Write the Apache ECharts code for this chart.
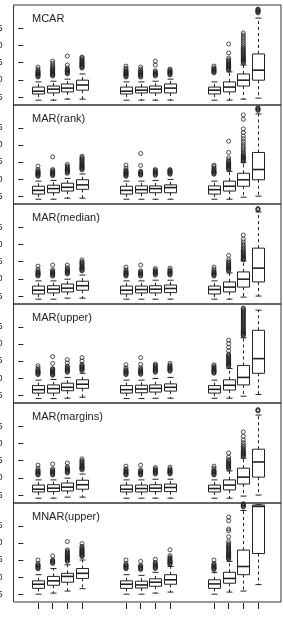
<!DOCTYPE html>
<html>
<head>
<meta charset="utf-8">
<script src="https://cdn.jsdelivr.net/npm/echarts@6/dist/echarts.min.js"></script>
<style>
  html, body { margin: 0; padding: 0; background: #fff; }
  #chart { width: 283px; height: 618px; }
</style>
</head>
<body>
<div id="chart"></div>
<script>
// box positions on the x scale (3 groups of 4)
const positions = [1, 2, 3, 4, 7, 8, 9, 10, 13, 14, 15, 16]
const panelNames = ['MCAR', 'MAR(rank)', 'MAR(median)', 'MAR(upper)', 'MAR(margins)', 'MNAR(upper)']
const yTicks = [0.05, 0.10, 0.15, 0.20, 0.25]

// [lower whisker, Q1, median, Q3, upper whisker]
const mcarBoxes = [
  [0.041, 0.059, 0.067, 0.079, 0.094], [0.041, 0.062, 0.073, 0.082, 0.096],
  [0.044, 0.065, 0.076, 0.088, 0.102], [0.044, 0.070, 0.085, 0.099, 0.117],
  [0.041, 0.059, 0.067, 0.079, 0.094], [0.041, 0.062, 0.070, 0.079, 0.094],
  [0.041, 0.062, 0.073, 0.082, 0.096], [0.041, 0.062, 0.076, 0.088, 0.102],
  [0.041, 0.059, 0.070, 0.079, 0.094], [0.041, 0.065, 0.079, 0.094, 0.123],
  [0.044, 0.082, 0.099, 0.117, 0.143], [0.047, 0.099, 0.128, 0.175, 0.279]
]
const mcarOutliers = [
  [0.108, 0.110, 0.112, 0.114, 0.116, 0.118, 0.120, 0.122, 0.124, 0.126, 0.131, 0.137],
  [0.111, 0.113, 0.115, 0.117, 0.119, 0.121, 0.123, 0.125, 0.127, 0.129, 0.132, 0.135, 0.138, 0.142, 0.148, 0.154],
  [0.117, 0.119, 0.121, 0.123, 0.125, 0.127, 0.129, 0.131, 0.134, 0.143, 0.169],
  [0.134, 0.136, 0.138, 0.140, 0.142, 0.144, 0.146, 0.148, 0.150, 0.152, 0.155, 0.158, 0.161, 0.164, 0.166],
  [0.108, 0.110, 0.112, 0.114, 0.116, 0.118, 0.120, 0.122, 0.124, 0.126, 0.130, 0.134, 0.140],
  [0.108, 0.110, 0.112, 0.114, 0.116, 0.118, 0.120, 0.122, 0.124, 0.126, 0.131, 0.137],
  [0.111, 0.113, 0.115, 0.117, 0.119, 0.121, 0.123, 0.126, 0.143, 0.154],
  [0.114, 0.116, 0.118, 0.120, 0.122, 0.124, 0.126, 0.129, 0.131],
  [0.120, 0.122, 0.124, 0.126, 0.128, 0.130, 0.132, 0.135, 0.140],
  [0.128, 0.130, 0.132, 0.134, 0.136, 0.138, 0.140, 0.142, 0.144, 0.146, 0.149, 0.152, 0.155, 0.158, 0.163, 0.178, 0.204],
  [0.149, 0.151, 0.153, 0.155, 0.157, 0.159, 0.161, 0.163, 0.165, 0.167, 0.170, 0.173, 0.176, 0.179, 0.182, 0.185, 0.188, 0.191, 0.195, 0.200, 0.206, 0.212, 0.218, 0.224, 0.230, 0.236],
  [0.294, 0.296, 0.298, 0.300, 0.302, 0.304, 0.305]
]

const rankBoxes = [
  [0.041, 0.056, 0.067, 0.079, 0.094], [0.041, 0.060, 0.072, 0.082, 0.096],
  [0.044, 0.065, 0.076, 0.088, 0.102], [0.044, 0.070, 0.083, 0.098, 0.115],
  [0.041, 0.056, 0.067, 0.079, 0.094], [0.041, 0.059, 0.069, 0.080, 0.094],
  [0.041, 0.060, 0.072, 0.080, 0.096], [0.041, 0.060, 0.075, 0.083, 0.099],
  [0.041, 0.056, 0.069, 0.080, 0.094], [0.041, 0.065, 0.079, 0.094, 0.123],
  [0.047, 0.079, 0.098, 0.117, 0.149], [0.050, 0.098, 0.128, 0.178, 0.291]
]
const rankOutliers = [
  [0.108, 0.110, 0.112, 0.114, 0.116, 0.118, 0.120, 0.122, 0.124, 0.128, 0.138],
  [0.110, 0.112, 0.114, 0.116, 0.118, 0.120, 0.122, 0.125, 0.128, 0.165],
  [0.117, 0.119, 0.121, 0.123, 0.125, 0.127, 0.129, 0.132, 0.135, 0.138, 0.143],
  [0.127, 0.129, 0.131, 0.133, 0.135, 0.137, 0.139, 0.141, 0.143, 0.145, 0.148, 0.151, 0.154, 0.157, 0.160, 0.163, 0.167],
  [0.108, 0.110, 0.112, 0.114, 0.116, 0.118, 0.120, 0.122, 0.124, 0.126, 0.132, 0.141],
  [0.111, 0.113, 0.115, 0.117, 0.119, 0.121, 0.123, 0.140, 0.175],
  [0.111, 0.113, 0.115, 0.117, 0.119, 0.121, 0.123, 0.126, 0.128],
  [0.114, 0.116, 0.118, 0.120, 0.122, 0.124, 0.126, 0.128],
  [0.114, 0.116, 0.118, 0.120, 0.122, 0.124, 0.126, 0.129, 0.132, 0.137, 0.141],
  [0.128, 0.130, 0.132, 0.134, 0.136, 0.138, 0.140, 0.142, 0.144, 0.146, 0.149, 0.152, 0.156, 0.162, 0.178, 0.211],
  [0.152, 0.154, 0.156, 0.158, 0.160, 0.162, 0.164, 0.166, 0.168, 0.172, 0.176, 0.180, 0.185, 0.190, 0.196, 0.203, 0.210, 0.218, 0.226, 0.236, 0.247, 0.275, 0.288],
  [0.301, 0.303, 0.305, 0.307, 0.309]
]

const medianBoxes = [
  [0.041, 0.056, 0.067, 0.079, 0.094], [0.041, 0.059, 0.070, 0.080, 0.094],
  [0.044, 0.062, 0.073, 0.085, 0.099], [0.044, 0.067, 0.080, 0.093, 0.111],
  [0.041, 0.056, 0.067, 0.079, 0.094], [0.041, 0.059, 0.069, 0.079, 0.094],
  [0.041, 0.059, 0.070, 0.080, 0.096], [0.041, 0.060, 0.072, 0.082, 0.096],
  [0.041, 0.056, 0.069, 0.079, 0.094], [0.041, 0.062, 0.076, 0.091, 0.117],
  [0.047, 0.076, 0.099, 0.120, 0.152], [0.050, 0.091, 0.131, 0.189, 0.294]
]
const medianOutliers = [
  [0.108, 0.110, 0.112, 0.114, 0.116, 0.118, 0.120, 0.123, 0.128, 0.137],
  [0.108, 0.110, 0.112, 0.114, 0.116, 0.118, 0.120, 0.123, 0.126, 0.140],
  [0.114, 0.116, 0.118, 0.120, 0.122, 0.124, 0.126, 0.129, 0.132, 0.140],
  [0.123, 0.125, 0.127, 0.129, 0.131, 0.133, 0.135, 0.138, 0.141, 0.144, 0.147, 0.150, 0.155],
  [0.108, 0.110, 0.112, 0.114, 0.116, 0.118, 0.120, 0.123, 0.126, 0.134],
  [0.108, 0.110, 0.112, 0.114, 0.116, 0.118, 0.120, 0.123, 0.140],
  [0.111, 0.113, 0.115, 0.117, 0.119, 0.121, 0.123, 0.126, 0.130],
  [0.111, 0.113, 0.115, 0.117, 0.119, 0.121, 0.123, 0.126, 0.131],
  [0.108, 0.110, 0.112, 0.114, 0.116, 0.118, 0.120, 0.123, 0.128, 0.134],
  [0.123, 0.125, 0.127, 0.129, 0.131, 0.133, 0.135, 0.138, 0.141, 0.144, 0.147, 0.150, 0.156, 0.168],
  [0.155, 0.157, 0.159, 0.161, 0.163, 0.165, 0.167, 0.170, 0.173, 0.176, 0.179, 0.182, 0.186, 0.190, 0.195, 0.200, 0.207, 0.215, 0.227],
  [0.300, 0.302, 0.304]
]

const upperBoxes = [
  [0.040, 0.056, 0.066, 0.078, 0.094], [0.040, 0.056, 0.069, 0.080, 0.096],
  [0.041, 0.063, 0.073, 0.085, 0.102], [0.044, 0.070, 0.082, 0.095, 0.114],
  [0.040, 0.056, 0.066, 0.078, 0.094], [0.040, 0.057, 0.068, 0.079, 0.094],
  [0.041, 0.059, 0.070, 0.080, 0.099], [0.041, 0.062, 0.073, 0.083, 0.102],
  [0.041, 0.056, 0.067, 0.078, 0.094], [0.041, 0.065, 0.079, 0.095, 0.128],
  [0.047, 0.080, 0.102, 0.137, 0.218], [0.052, 0.114, 0.157, 0.240, 0.299]
]
const upperOutliers = [
  [0.110, 0.112, 0.114, 0.116, 0.118, 0.120, 0.122, 0.125, 0.130, 0.136],
  [0.108, 0.110, 0.112, 0.114, 0.116, 0.118, 0.120, 0.122, 0.124, 0.126, 0.128, 0.143, 0.163],
  [0.117, 0.119, 0.121, 0.123, 0.125, 0.127, 0.129, 0.132, 0.135, 0.144, 0.154],
  [0.122, 0.124, 0.126, 0.128, 0.130, 0.132, 0.134, 0.137, 0.140, 0.150, 0.160],
  [0.110, 0.112, 0.114, 0.116, 0.118, 0.120, 0.122, 0.125, 0.130, 0.139],
  [0.111, 0.113, 0.115, 0.117, 0.119, 0.121, 0.123, 0.126, 0.130, 0.140, 0.160],
  [0.117, 0.119, 0.121, 0.123, 0.125, 0.127, 0.129, 0.132, 0.135, 0.138, 0.141],
  [0.120, 0.122, 0.124, 0.126, 0.128, 0.130, 0.132, 0.135, 0.138, 0.143],
  [0.114, 0.116, 0.118, 0.120, 0.122, 0.124, 0.126, 0.129, 0.132, 0.135, 0.139],
  [0.134, 0.136, 0.138, 0.140, 0.142, 0.144, 0.146, 0.148, 0.150, 0.152, 0.155, 0.158, 0.161, 0.164, 0.167, 0.170, 0.180, 0.190, 0.201, 0.211],
  [0.224, 0.226, 0.228, 0.230, 0.232, 0.234, 0.236, 0.238, 0.240, 0.243, 0.246, 0.249, 0.252, 0.255, 0.258, 0.261, 0.264, 0.267, 0.270, 0.273, 0.276, 0.279, 0.282, 0.285, 0.288, 0.291, 0.294, 0.297, 0.300, 0.303, 0.305],
  []
]

const marginsBoxes = [
  [0.041, 0.059, 0.067, 0.079, 0.094], [0.041, 0.060, 0.070, 0.080, 0.094],
  [0.044, 0.062, 0.073, 0.085, 0.099], [0.044, 0.067, 0.080, 0.093, 0.111],
  [0.041, 0.059, 0.067, 0.079, 0.094], [0.041, 0.059, 0.069, 0.079, 0.094],
  [0.041, 0.060, 0.070, 0.080, 0.096], [0.041, 0.060, 0.072, 0.082, 0.096],
  [0.041, 0.059, 0.069, 0.079, 0.094], [0.041, 0.065, 0.079, 0.094, 0.120],
  [0.047, 0.082, 0.102, 0.128, 0.157], [0.050, 0.102, 0.146, 0.183, 0.282]
]
const marginsOutliers = [
  [0.108, 0.110, 0.112, 0.114, 0.116, 0.118, 0.120, 0.123, 0.128, 0.137],
  [0.108, 0.110, 0.112, 0.114, 0.116, 0.118, 0.120, 0.123, 0.126, 0.140],
  [0.114, 0.116, 0.118, 0.120, 0.122, 0.124, 0.126, 0.129, 0.132, 0.143],
  [0.123, 0.125, 0.127, 0.129, 0.131, 0.133, 0.135, 0.138, 0.141, 0.144, 0.147, 0.150, 0.155],
  [0.108, 0.110, 0.112, 0.114, 0.116, 0.118, 0.120, 0.123, 0.126, 0.134],
  [0.108, 0.110, 0.112, 0.114, 0.116, 0.118, 0.120, 0.123, 0.137],
  [0.111, 0.113, 0.115, 0.117, 0.119, 0.121, 0.123, 0.126, 0.130],
  [0.111, 0.113, 0.115, 0.117, 0.119, 0.121, 0.123, 0.126, 0.131],
  [0.108, 0.110, 0.112, 0.114, 0.116, 0.118, 0.120, 0.123, 0.128, 0.134],
  [0.126, 0.128, 0.130, 0.132, 0.134, 0.136, 0.138, 0.141, 0.144, 0.147, 0.150, 0.153, 0.160, 0.172],
  [0.162, 0.164, 0.166, 0.168, 0.170, 0.172, 0.174, 0.177, 0.180, 0.183, 0.187, 0.191, 0.196, 0.202, 0.210, 0.220, 0.233],
  [0.294, 0.296, 0.298]
]

const mnarBoxes = [
  [0.050, 0.067, 0.079, 0.089, 0.107], [0.053, 0.076, 0.089, 0.102, 0.125],
  [0.059, 0.085, 0.102, 0.111, 0.136], [0.066, 0.096, 0.111, 0.125, 0.150],
  [0.050, 0.067, 0.079, 0.089, 0.107], [0.050, 0.068, 0.077, 0.088, 0.105],
  [0.053, 0.073, 0.085, 0.095, 0.114], [0.056, 0.079, 0.092, 0.107, 0.131],
  [0.050, 0.067, 0.080, 0.092, 0.114], [0.056, 0.082, 0.096, 0.114, 0.146],
  [0.059, 0.107, 0.131, 0.179, 0.295], [0.078, 0.169, 0.307, 0.311, 0.312]
]
const mnarOutliers = [
  [0.124, 0.126, 0.128, 0.130, 0.132, 0.134, 0.136, 0.140, 0.150],
  [0.140, 0.142, 0.144, 0.146, 0.148, 0.150, 0.162],
  [0.146, 0.148, 0.150, 0.152, 0.154, 0.156, 0.158, 0.160, 0.162, 0.164, 0.167, 0.170, 0.173, 0.176, 0.180, 0.204],
  [0.160, 0.162, 0.164, 0.166, 0.168, 0.170, 0.172, 0.174, 0.176, 0.178, 0.181, 0.184, 0.187, 0.190, 0.198],
  [0.124, 0.126, 0.128, 0.130, 0.132, 0.134, 0.136, 0.140, 0.150],
  [0.122, 0.124, 0.126, 0.128, 0.130, 0.132, 0.134, 0.146],
  [0.125, 0.127, 0.129, 0.131, 0.133, 0.135, 0.137, 0.140, 0.143, 0.152],
  [0.137, 0.139, 0.141, 0.143, 0.145, 0.147, 0.149, 0.152, 0.155, 0.158, 0.163, 0.180],
  [0.122, 0.124, 0.126, 0.128, 0.130, 0.132, 0.134, 0.137, 0.140, 0.150],
  [0.152, 0.154, 0.156, 0.158, 0.160, 0.162, 0.164, 0.166, 0.168, 0.170, 0.173, 0.176, 0.179, 0.182, 0.185, 0.188, 0.191, 0.194, 0.198, 0.204, 0.218, 0.236, 0.241, 0.265, 0.276],
  [0.305, 0.307, 0.309, 0.311, 0.313, 0.315],
  []
]

const allBoxes = [mcarBoxes, rankBoxes, medianBoxes, upperBoxes, marginsBoxes, mnarBoxes]
const allOutliers = [mcarOutliers, rankOutliers, medianOutliers, upperOutliers, marginsOutliers, mnarOutliers]

const chart = echarts.init(document.getElementById('chart'))

const ink = '#222'
const font = 'Liberation Sans, Arial, sans-serif'
const panelTop = 5
const panelStep = 99.5
const halfBox = 6

const grids = []
const xAxes = []
const yAxes = []
const titles = []
const series = []

function drawBox(params, api) {
  const x = api.value(0)
  const lo = api.coord([x, api.value(1)])
  const q1 = api.coord([x, api.value(2)])
  const md = api.coord([x, api.value(3)])
  const q3 = api.coord([x, api.value(4)])
  const hi = api.coord([x, api.value(5)])
  const cx = Math.round(lo[0]) + 0.5
  const line = { stroke: ink, lineWidth: 1, fill: null }
  const dashed = { stroke: ink, lineWidth: 1, lineDash: [3, 3], fill: null }
  return {
    type: 'group',
    children: [
      { type: 'line', shape: { x1: cx, y1: q3[1], x2: cx, y2: hi[1] }, style: dashed },
      { type: 'line', shape: { x1: cx, y1: q1[1], x2: cx, y2: lo[1] }, style: dashed },
      { type: 'line', shape: { x1: cx - halfBox / 2, y1: hi[1], x2: cx + halfBox / 2, y2: hi[1] }, style: line },
      { type: 'line', shape: { x1: cx - halfBox / 2, y1: lo[1], x2: cx + halfBox / 2, y2: lo[1] }, style: line },
      { type: 'rect', shape: { x: cx - halfBox, y: q3[1], width: halfBox * 2, height: q1[1] - q3[1] }, style: { stroke: ink, lineWidth: 1, fill: '#fff' } },
      { type: 'line', shape: { x1: cx - halfBox, y1: md[1], x2: cx + halfBox, y2: md[1] }, style: { stroke: ink, lineWidth: 1.6 } }
    ]
  }
}

panelNames.forEach((name, i) => {
  const top = Math.round(panelTop + i * panelStep)
  const bottom = Math.round(panelTop + (i + 1) * panelStep)
  const last = i === panelNames.length - 1
  grids.push({
    left: 13.5, width: 267.5, top: top, height: bottom - top,
    outerBoundsMode: 'none', containLabel: false,
    show: true, borderColor: '#333', borderWidth: 1, backgroundColor: 'transparent'
  })
  xAxes.push({
    type: 'value', gridIndex: i, min: -0.67, max: 17.57,
    position: 'bottom', offset: 1,
    axisLine: { show: false },
    axisTick: { show: last, length: 6, customValues: positions, lineStyle: { color: ink } },
    axisLabel: { show: false },
    splitLine: { show: false }
  })
  yAxes.push({
    type: 'value', gridIndex: i, min: 0.027, max: 0.317,
    axisLine: { show: false },
    axisTick: { show: true, length: 5, customValues: yTicks, lineStyle: { color: ink } },
    axisLabel: {
      show: true, customValues: yTicks, margin: 11, fontSize: 9, color: ink, fontFamily: font,
      formatter: v => v.toFixed(2)
    },
    splitLine: { show: false }
  })
  titles.push({
    text: name, left: 32, top: top + 8, padding: 0,
    textStyle: { fontSize: 11, fontWeight: 'normal', color: ink, fontFamily: font }
  })
  series.push({
    type: 'custom', xAxisIndex: i, yAxisIndex: i,
    renderItem: drawBox,
    encode: { x: 0, y: [1, 2, 3, 4, 5] },
    data: positions.map((p, j) => [p].concat(allBoxes[i][j])),
    silent: true
  })
  const pts = []
  positions.forEach((p, j) => {
    allOutliers[i][j].forEach(v => pts.push([p, v]))
  })
  series.push({
    type: 'scatter', xAxisIndex: i, yAxisIndex: i,
    symbol: 'circle', symbolSize: 4,
    itemStyle: { color: 'rgba(0,0,0,0)', borderColor: ink, borderWidth: 1 },
    data: pts,
    silent: true
  })
})

chart.setOption({
  animation: false,
  backgroundColor: '#fff',
  title: titles,
  grid: grids,
  xAxis: xAxes,
  yAxis: yAxes,
  series: series
})
</script>
</body>
</html>
